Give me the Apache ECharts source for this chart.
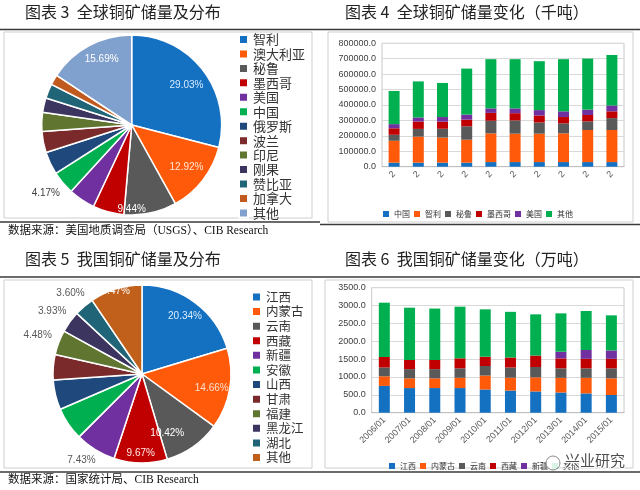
<!DOCTYPE html>
<html>
<head>
<meta charset="utf-8">
<script src="https://cdn.jsdelivr.net/npm/echarts@6/dist/echarts.min.js"></script>
<style>
  html, body { margin: 0; padding: 0; background: #fff; }
  .panel { position: absolute; width: 320px; height: 245px; }
</style>
</head>
<body>
<div class="panel" id="p3" style="left:0;top:0"></div>
<div class="panel" id="p4" style="left:320px;top:0"></div>
<div class="panel" id="p5" style="left:0;top:245px"></div>
<div class="panel" id="p6" style="left:320px;top:245px"></div>
<script>
// 图表3 全球铜矿储量分布（%）
const worldNames = ['智利', '澳大利亚', '秘鲁', '墨西哥', '美国', '中国', '俄罗斯', '波兰', '印尼', '刚果', '赞比亚', '加拿大', '其他']
const worldShare = [29.03, 12.92, 9.44, 5.6, 4.8, 4.17, 4.1, 3.8, 3.4, 2.6, 2.6, 1.85, 15.69]

// 图表4 全球铜矿储量变化（千吨）
const years = ['2006/01', '2007/01', '2008/01', '2009/01', '2010/01', '2011/01', '2012/01', '2013/01', '2014/01', '2015/01']
const worldChina = [26000, 26000, 26000, 26000, 30000, 30000, 30000, 30000, 30000, 30000]
const worldChile = [142000, 169000, 163000, 149000, 186000, 184000, 184000, 186000, 208000, 208000]
const worldPeru = [39000, 50000, 57000, 87000, 82000, 86000, 73000, 65000, 56000, 77000]
const worldMexico = [42000, 48000, 46000, 43000, 51000, 47000, 45000, 41000, 41000, 44000]
const worldUSA = [27000, 26000, 30000, 33000, 29000, 31000, 35000, 37000, 35000, 38000]
const worldOther = [215000, 234000, 221000, 298000, 319000, 319000, 317000, 338000, 331000, 327000]

// 图表5 我国铜矿储量分布（%）
const cnNames = ['江西', '内蒙古', '云南', '西藏', '新疆', '安徽', '山西', '甘肃', '福建', '黑龙江', '湖北', '其他']
const cnShare = [20.34, 14.66, 10.42, 9.67, 7.43, 6.0, 5.4, 4.6, 4.48, 3.93, 3.60, 9.47]

// 图表6 我国铜矿储量变化（万吨）
const cnJiangxi = [750, 690, 690, 690, 650, 620, 595, 565, 540, 495]
const cnNeimenggu = [270, 272, 272, 288, 390, 360, 395, 412, 437, 467]
const cnYunnan = [245, 258, 258, 264, 268, 285, 290, 265, 265, 280]
const cnXizang = [295, 256, 256, 280, 260, 280, 320, 278, 266, 266]
const cnXinjiang = [0, 0, 0, 0, 0, 0, 0, 188, 247, 237]
const cnOther = [1520, 1464, 1440, 1446, 1326, 1279, 1154, 1074, 1093, 981]

const CJK = 'Noto Sans CJK SC'
const NUM = 'Liberation Sans'
const BLUE = '#1470c0', ORANGE = '#ff5a0a', GRAY = '#595959', RED = '#c00000', PURPLE = '#7030a0', GREEN = '#00b050'

const worldPieColors = [BLUE, ORANGE, GRAY, RED, PURPLE, GREEN, '#1f497d', '#7a2a2a', '#5f7530', '#3c3560', '#206478', '#c05a1e', '#80a0cd']
const cnPieColors = [BLUE, ORANGE, GRAY, RED, PURPLE, GREEN, '#1f497d', '#7a2a2a', '#5f7530', '#3c3560', '#206478', '#c0601a']

// which slices carry a label in the original: radius ratio, angle shift, colour
const worldLabels = {
  0: { r: 0.75, da: 2, color: '#d6ecff' },
  1: { r: 0.77, da: 0, color: '#ffe5d5' },
  2: { r: 0.94, da: 12, color: '#ffffff' },
  5: { r: 1.22, da: 1.5, color: '#404040' },
  12: { r: 0.8, da: 3.6, color: '#ffffff' }
}
const cnLabels = {
  0: { r: 0.81, da: 0, color: '#d6ecff' },
  1: { r: 0.8, da: 2, color: '#ffe0cc' },
  2: { r: 0.72, da: 12, color: '#ffffff' },
  3: { r: 0.89, da: 0, color: '#ffe8e8' },
  4: { r: 1.18, da: 3.5, color: '#595959' },
  8: { r: 1.25, da: -0.5, color: '#595959' },
  9: { r: 1.23, da: -1, color: '#595959' },
  10: { r: 1.21, da: -1, color: '#595959' },
  11: { r: 0.97, da: -0.6, color: '#ffffff' }
}

function frame (title, titleY, lineTop, box, lineBottom, source, sourceY) {
  const g = [
    { type: 'line', shape: { x1: 0, y1: lineTop, x2: 320, y2: lineTop }, style: { stroke: '#3a3a3a', lineWidth: 1.5 } },
    { type: 'rect', shape: { x: box[0], y: box[1], width: box[2] - box[0], height: box[3] - box[1] }, style: { fill: 'none', stroke: '#cfcfcf', lineWidth: 1 } },
    { type: 'line', shape: { x1: 0, y1: lineBottom, x2: 320, y2: lineBottom }, style: { stroke: '#3a3a3a', lineWidth: 1.5 } },
    { type: 'text', left: 25, top: titleY - 9, style: { text: title, font: '16px "' + CJK + '"', fill: '#222' } }
  ]
  if (source) {
    g.push({ type: 'text', left: 8, top: sourceY - 7, style: { text: source, font: '11.5px "Liberation Serif", "' + CJK + '"', fill: '#111' } })
  }
  return g
}

function pieOption (names, values, colors, labels, cx, cy, R, legend) {
  const total = values.reduce((a, b) => a + b, 0)
  const mids = []
  let acc = 0
  values.forEach(v => { mids.push((acc + v / 2) / total * 360); acc += v })
  return {
    legend: {
      orient: 'vertical', left: legend.left, top: legend.top, itemWidth: 9, itemHeight: 9, itemGap: legend.gap,
      icon: 'rect', data: names, selectedMode: false,
      textStyle: { fontFamily: CJK, fontSize: legend.font, color: '#333' }
    },
    series: [{
      type: 'pie', center: [cx, cy], radius: R, startAngle: 90, clockwise: true,
      avoidLabelOverlap: false, animation: false,
      data: names.map((n, i) => ({
        name: n, value: values[i], itemStyle: { color: colors[i] },
        label: labels[i] ? { color: labels[i].color } : undefined
      })),
      itemStyle: { borderColor: '#fff', borderWidth: 1.5 },
      label: {
        show: true, position: 'inside', fontFamily: NUM, fontSize: 10,
        formatter: p => labels[p.dataIndex] ? p.percent.toFixed(2) + '%' : ''
      },
      labelLine: { show: false },
      labelLayout: p => {
        const c = labels[p.dataIndex]
        if (!c) return {}
        const a = (mids[p.dataIndex] + c.da) * Math.PI / 180
        return { x: cx + c.r * R * Math.sin(a), y: cy - c.r * R * Math.cos(a), align: 'center', verticalAlign: 'middle' }
      },
      emphasis: { disabled: true }
    }]
  }
}

// 图表3
const c3 = echarts.init(document.getElementById('p3'))
const o3 = pieOption(worldNames, worldShare, worldPieColors, worldLabels, 131.7, 125, 90, { left: 233, top: 28, gap: 1.45, font: 13 })
o3.graphic = frame('图表 3  全球铜矿储量及分布', 13, 29.5, [4, 32, 312, 218], 222, '数据来源：美国地质调查局（USGS）、CIB Research', 232)
c3.setOption(o3)

// 图表5
const c5 = echarts.init(document.getElementById('p5'))
const o5 = pieOption(cnNames, cnShare, cnPieColors, cnLabels, 142, 129, 89, { left: 246, top: 40.7, gap: 2.1, font: 12.5 })
o5.graphic = frame('图表 5  我国铜矿储量及分布', 15, 32, [4, 35, 312, 223], 227, '数据来源：国家统计局、CIB Research', 236)
c5.setOption(o5)

function barOption (grid, max, interval, seriesList, legendTop, legendLeft, xFormatter) {
  return {
    animation: false,
    grid: Object.assign({ show: true, borderColor: '#c8c8c8', borderWidth: 1 }, grid),
    legend: {
      top: legendTop, left: legendLeft, itemWidth: 6, itemHeight: 6, itemGap: 4, icon: 'rect', selectedMode: false,
      textStyle: { fontFamily: CJK, fontSize: 8, color: '#333' }
    },
    xAxis: {
      type: 'category', data: years,
      axisLine: { lineStyle: { color: '#bfbfbf' } }, axisTick: { show: false },
      axisLabel: { rotate: 45, interval: 0, fontFamily: NUM, fontSize: 9, color: '#595959', margin: 6, formatter: xFormatter }
    },
    yAxis: {
      type: 'value', min: 0, max: max, interval: interval,
      axisLine: { show: false }, axisTick: { show: false },
      splitLine: { lineStyle: { color: '#d9d9d9' } },
      axisLabel: { fontFamily: NUM, fontSize: 9, color: '#404040', margin: 6, formatter: v => v.toFixed(1) }
    },
    series: seriesList.map(s => ({
      type: 'bar', stack: 'all', name: s[0], data: s[1], barWidth: 11,
      itemStyle: { color: s[2] }, emphasis: { disabled: true }
    }))
  }
}

// 图表4: original labels are cut to their first character
const c4 = echarts.init(document.getElementById('p4'))
const o4 = barOption({ left: 62, right: 16, top: 43.3, bottom: 78.3 }, 800000, 100000, [
  ['中国', worldChina, BLUE], ['智利', worldChile, ORANGE], ['秘鲁', worldPeru, GRAY],
  ['墨西哥', worldMexico, RED], ['美国', worldUSA, PURPLE], ['其他', worldOther, GREEN]
], 205, 58, v => v.charAt(0))
o4.graphic = frame('图表 4  全球铜矿储量变化（千吨）', 13, 29.5, [8, 32, 313, 222], 224.5, null)
c4.setOption(o4)

// 图表6
const c6 = echarts.init(document.getElementById('p6'))
const o6 = barOption({ left: 51.7, right: 16, top: 42.7, bottom: 77.3 }, 3500, 500, [
  ['江西', cnJiangxi, BLUE], ['内蒙古', cnNeimenggu, ORANGE], ['云南', cnYunnan, GRAY],
  ['西藏', cnXizang, RED], ['新疆', cnXinjiang, PURPLE], ['其他', cnOther, GREEN]
], 212, 64)
o6.graphic = frame('图表 6  我国铜矿储量变化（万吨）', 15, 32, [5, 35, 313, 223], 227, null)
o6.graphic.push({ type: 'text', left: 244, top: 207, z: 100, style: { text: '兴业研究', font: '15px "' + CJK + '"', fill: '#3a3a3a', stroke: '#fff', lineWidth: 2, opacity: 0.9 } })
o6.graphic.push({ type: 'circle', shape: { cx: 233, cy: 218, r: 7 }, z: 100, style: { fill: 'rgba(255,255,255,0.85)', stroke: '#888', lineWidth: 1 } })
c6.setOption(o6)
</script>
</body>
</html>
